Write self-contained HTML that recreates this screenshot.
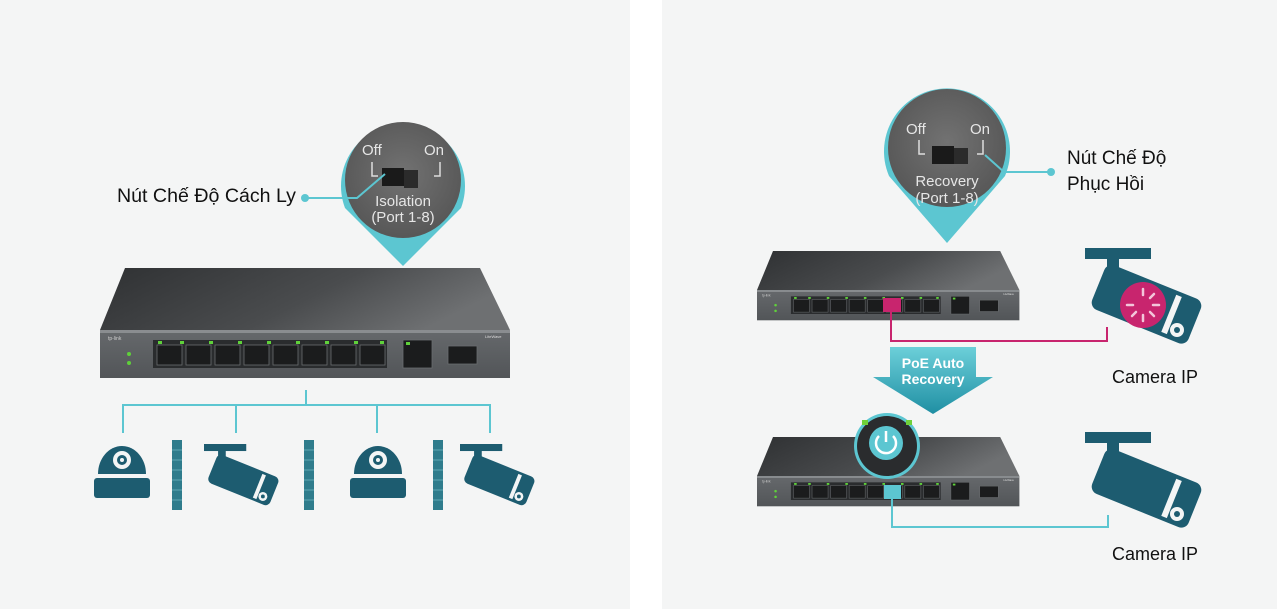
<!DOCTYPE html>
<html><head><meta charset="utf-8"><style>
html,body{margin:0;padding:0;background:#fff;}
svg{display:block;font-family:"Liberation Sans","DejaVu Sans",sans-serif;}
</style></head><body>
<svg width="1277" height="609" viewBox="0 0 1277 609" xmlns="http://www.w3.org/2000/svg">
<defs>
<linearGradient id="top" x1="0" y1="0" x2="1" y2="0.3">
<stop offset="0" stop-color="#2f3133"/><stop offset="0.6" stop-color="#4a4c4e"/><stop offset="1" stop-color="#6e7072"/></linearGradient>
<linearGradient id="front" x1="0" y1="0" x2="0" y2="1">
<stop offset="0" stop-color="#66696c"/><stop offset="1" stop-color="#525558"/></linearGradient>
<radialGradient id="bub" cx="0.5" cy="0.45" r="0.6"><stop offset="0" stop-color="#727272"/><stop offset="1" stop-color="#555"/></radialGradient>
<linearGradient id="arr" x1="0" y1="0" x2="0" y2="1"><stop offset="0" stop-color="#6ccfd9"/><stop offset="1" stop-color="#1f8fa3"/></linearGradient>
<g id="sw">
 <polygon points="25,0 380,0 410,62 0,62" fill="url(#top)"/>
 <rect x="0" y="62" width="410" height="48" fill="url(#front)"/>
 <rect x="0" y="62" width="410" height="3" fill="#8a8d90"/>
 <rect x="53" y="72" width="234" height="28" fill="#2a2c2e"/>
 <g fill="#1b1c1d" stroke="#6a6d70" stroke-width="0.8">
  <rect x="57" y="77" width="25" height="20"/><rect x="86" y="77" width="25" height="20"/><rect x="115" y="77" width="25" height="20"/><rect x="144" y="77" width="25" height="20"/>
  <rect x="173" y="77" width="25" height="20"/><rect x="202" y="77" width="25" height="20"/><rect x="231" y="77" width="25" height="20"/><rect x="260" y="77" width="25" height="20"/>
  <rect x="303" y="72" width="29" height="28"/><rect x="348" y="78" width="29" height="18"/>
 </g>
 <g fill="#5fd13a"><rect x="58" y="73" width="4" height="3"/><rect x="80" y="73" width="4" height="3"/><rect x="109" y="73" width="4" height="3"/><rect x="138" y="73" width="4" height="3"/><rect x="167" y="73" width="4" height="3"/><rect x="196" y="73" width="4" height="3"/><rect x="225" y="73" width="4" height="3"/><rect x="254" y="73" width="4" height="3"/><rect x="280" y="73" width="4" height="3"/><rect x="306" y="74" width="4" height="3"/>
 <circle cx="29" cy="86" r="2"/><circle cx="29" cy="95" r="2"/></g>
 <text x="8" y="72" font-size="5" fill="#ccc">tp-link</text>
 <text x="385" y="70" font-size="4" fill="#ddd">LiteWave</text>
</g>
<g id="bullet">
 <rect x="0" y="0" width="66" height="11" fill="#1d5c70"/>
 <rect x="22" y="10" width="12" height="28" fill="#1d5c70"/>
 <g transform="rotate(22 60 60)">
  <rect x="8" y="32" width="104" height="48" rx="8" fill="#1d5c70"/>
  <rect x="84" y="36" width="6" height="40" fill="#f3f5f5"/>
 </g>
 <circle cx="92" cy="82" r="7" fill="#f3f5f5"/><circle cx="92" cy="82" r="3" fill="#1d5c70"/>
</g>
<g id="dome">
 <path d="M4,34 A24,28 0 0 1 52,34 Z" fill="#1d5c70"/>
 <rect x="0" y="38" width="56" height="20" rx="3" fill="#1d5c70"/>
 <circle cx="28" cy="20" r="9" fill="#f3f5f5"/><circle cx="28" cy="20" r="5" fill="#1d5c70"/><circle cx="28" cy="20" r="2" fill="#f3f5f5"/>
</g>
<g id="wall">
 <rect x="0" y="0" width="10" height="70" fill="#2f7c8c"/>
 <g stroke="#5fa7b5" stroke-width="1"><line x1="0" y1="10" x2="10" y2="10"/><line x1="0" y1="20" x2="10" y2="20"/><line x1="0" y1="30" x2="10" y2="30"/><line x1="0" y1="40" x2="10" y2="40"/><line x1="0" y1="50" x2="10" y2="50"/><line x1="0" y1="60" x2="10" y2="60"/></g>
</g>
</defs>

<rect x="0" y="0" width="630" height="609" fill="#f4f5f5"/>
<rect x="662" y="0" width="615" height="609" fill="#f4f5f5"/>

<!-- LEFT -->
<path d="M345,208 A62,62 0 1 1 461,208 L403,266 Z" fill="#5cc6d1"/>
<circle cx="403" cy="180" r="58" fill="url(#bub)"/>
<text x="362" y="155" font-size="15" fill="#e6e6e6">Off</text>
<text x="424" y="155" font-size="15" fill="#e6e6e6">On</text>
<path d="M372,162 V176 H378 M440,162 V176 H434" stroke="#ddd" stroke-width="1.5" fill="none"/>
<rect x="382" y="168" width="22" height="18" fill="#1a1a1a"/><rect x="404" y="170" width="14" height="18" fill="#2b2b2b"/>
<text x="403" y="206" font-size="15" fill="#e6e6e6" text-anchor="middle">Isolation</text>
<text x="403" y="222" font-size="15" fill="#e6e6e6" text-anchor="middle">(Port 1-8)</text>
<text x="117" y="202" font-size="19.6" fill="#111">Nút Chế Độ Cách Ly</text>
<path d="M305,198 H357 L385,174" stroke="#5cc6d1" stroke-width="2" fill="none"/>
<circle cx="305" cy="198" r="4" fill="#5cc6d1"/>

<use href="#sw" transform="translate(100,268)"/>

<path d="M306,390 V405 M123,433 V405 H490 V433 M236,405 V433 M377,405 V433" stroke="#5cc6d1" stroke-width="2" fill="none"/>
<use href="#dome" transform="translate(94,440)"/>
<use href="#bullet" transform="translate(204,444) scale(0.64)"/>
<use href="#dome" transform="translate(350,440)"/>
<use href="#bullet" transform="translate(460,444) scale(0.64)"/>
<use href="#wall" transform="translate(172,440)"/>
<use href="#wall" transform="translate(304,440)"/>
<use href="#wall" transform="translate(433,440)"/>

<!-- RIGHT -->
<path d="M889,176 A63,63 0 1 1 1005,176 L947,243 Z" fill="#5cc6d1"/>
<circle cx="947" cy="148" r="59" fill="url(#bub)"/>
<text x="906" y="134" font-size="15" fill="#e6e6e6">Off</text>
<text x="970" y="134" font-size="15" fill="#e6e6e6">On</text>
<path d="M919,140 V154 H925 M983,140 V154 H977" stroke="#ddd" stroke-width="1.5" fill="none"/>
<rect x="932" y="146" width="22" height="18" fill="#1a1a1a"/><rect x="954" y="148" width="14" height="16" fill="#2b2b2b"/>
<text x="947" y="186" font-size="15" fill="#e6e6e6" text-anchor="middle">Recovery</text>
<text x="947" y="203" font-size="15" fill="#e6e6e6" text-anchor="middle">(Port 1-8)</text>
<path d="M1051,172 H1004 L985,155" stroke="#5cc6d1" stroke-width="2" fill="none"/>
<circle cx="1051" cy="172" r="4" fill="#5cc6d1"/>
<text x="1067" y="164" font-size="19" fill="#111">Nút Chế Độ</text>
<text x="1067" y="190" font-size="19" fill="#111">Phục Hồi</text>

<use href="#sw" transform="translate(757,251) scale(0.64,0.63)"/>
<rect x="883" y="298" width="18" height="14" fill="#c8256e"/>
<path d="M891,312 V341 H1107 V327" stroke="#c8256e" stroke-width="2" fill="none"/>
<use href="#bullet" transform="translate(1085,248) scale(1.0)"/>
<circle cx="1143" cy="305" r="23" fill="#c8256e"/>
<g stroke="#f3c6da" stroke-width="2.5" stroke-linecap="round">
<line x1="1143" y1="289" x2="1143" y2="295"/><line x1="1154" y1="294" x2="1150" y2="298"/><line x1="1159" y1="305" x2="1153" y2="305"/><line x1="1154" y1="316" x2="1150" y2="312"/><line x1="1143" y1="321" x2="1143" y2="315"/><line x1="1132" y1="316" x2="1136" y2="312"/><line x1="1127" y1="305" x2="1133" y2="305"/></g>
<text x="1112" y="383" font-size="18" fill="#111">Camera IP</text>

<polygon points="890,347 976,347 976,377 993,377 933,414 873,377 890,377" fill="url(#arr)"/>
<text x="933" y="368" font-size="14" font-weight="bold" fill="#fff" text-anchor="middle">PoE Auto</text>
<text x="933" y="384" font-size="14" font-weight="bold" fill="#fff" text-anchor="middle">Recovery</text>

<use href="#sw" transform="translate(757,437) scale(0.64,0.63)"/>
<rect x="884" y="485" width="17" height="14" fill="#5cc6d1"/>
<path d="M892,499 V527 H1108 V515" stroke="#5cc6d1" stroke-width="2" fill="none"/>
<circle cx="887" cy="446" r="33" fill="#5cc6d1"/>
<circle cx="887" cy="446" r="30" fill="#2a2c2e"/>
<rect x="862" y="420" width="6" height="5" fill="#6fd13a"/><rect x="906" y="420" width="6" height="5" fill="#6fd13a"/>
<circle cx="886" cy="443" r="17" fill="#5cc6d1"/>
<path d="M879,436 A10,10 0 1 0 893,436" stroke="#fff" stroke-width="2.5" fill="none"/>
<line x1="886" y1="431" x2="886" y2="442" stroke="#fff" stroke-width="2.5"/>
<use href="#bullet" transform="translate(1085,432) scale(1.0)"/>
<text x="1112" y="560" font-size="18" fill="#111">Camera IP</text>
</svg>
</body></html>
